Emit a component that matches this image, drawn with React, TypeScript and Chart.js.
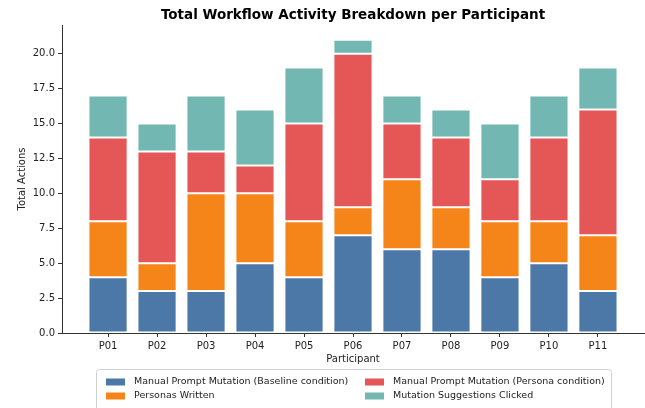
import React, { useEffect, useRef } from "react";
import { Chart, registerables } from "chart.js";

Chart.register(...registerables);

const participants = ["P01", "P02", "P03", "P04", "P05", "P06", "P07", "P08", "P09", "P10", "P11"];
const baseline = [4, 3, 3, 5, 4, 7, 6, 6, 4, 5, 3];
const personasWritten = [4, 2, 7, 5, 4, 2, 5, 3, 4, 3, 4];
const personaCondition = [6, 8, 3, 2, 7, 11, 4, 5, 3, 6, 9];
const suggestionsClicked = [3, 2, 4, 4, 4, 1, 2, 2, 4, 3, 3];
const yTicks = [0, 2.5, 5, 7.5, 10, 12.5, 15, 17.5, 20];

const seriesNames = [
  "Manual Prompt Mutation (Baseline condition)",
  "Personas Written",
  "Manual Prompt Mutation (Persona condition)",
  "Mutation Suggestions Clicked",
];
const colors = ["#4C78A8", "#F58518", "#E45756", "#72B7B2"];

const FONT = "'DejaVu Sans', sans-serif";

export default function App() {
  const ref = useRef<HTMLCanvasElement | null>(null);
  useEffect(() => {
    document.body.style.margin = "0";
    const canvas = ref.current!;
    const allSeries = [baseline, personasWritten, personaCondition, suggestionsClicked];
    const total = participants.map((_, i) => allSeries.reduce((s, a) => s + a[i], 0));
    const yMax = Math.max(...total) * 1.05;
    const n = participants.length;
    const span = n - 1 + 0.8;
    const xMin = -0.4 - 0.05 * span;
    const xMax = n - 1 + 0.4 + 0.05 * span;

    const decor = {
      id: "decor",
      afterDraw(chart: any) {
        const ctx = chart.ctx as CanvasRenderingContext2D;
        const area = chart.chartArea;
        const cx = (area.left + area.right) / 2;
        ctx.save();
        ctx.fillStyle = "#000";
        ctx.textAlign = "center";
        ctx.textBaseline = "middle";
        ctx.font = `bold 13.5px ${FONT}`;
        ctx.fillText("Total Workflow Activity Breakdown per Participant", cx, 15);
        ctx.font = `10px ${FONT}`;
        ctx.fillStyle = "#222";
        ctx.fillText("Participant", cx, 359);
        ctx.save();
        ctx.translate(22, (area.top + area.bottom) / 2);
        ctx.rotate(-Math.PI / 2);
        ctx.fillText("Total Actions", 0, 0);
        ctx.restore();

        // legend
        const bx = 96, by = 369, bw = 515, bh = 60;
        ctx.fillStyle = "rgba(255,255,255,0.8)";
        ctx.strokeStyle = "#d0d0d0";
        ctx.lineWidth = 1;
        ctx.beginPath();
        (ctx as any).roundRect(bx + 0.5, by + 0.5, bw, bh, 3);
        ctx.fill();
        ctx.stroke();
        const cols = [106, 365];
        const rows = [382, 396];
        ctx.font = `9.5px ${FONT}`;
        ctx.textAlign = "left";
        ctx.textBaseline = "middle";
        for (let k = 0; k < 4; k++) {
          const col = Math.floor(k / 2);
          const row = k % 2;
          ctx.fillStyle = colors[k];
          ctx.fillRect(cols[col], rows[row] - 3.5, 19, 7);
          ctx.fillStyle = "#222";
          ctx.fillText(seriesNames[k], cols[col] + 28, rows[row]);
        }
        ctx.restore();
      },
    };

    const chart = new Chart(canvas, {
      type: "bar",
      data: {
        datasets: allSeries.map((arr, k) => ({
          label: seriesNames[k],
          data: arr.map((v, i) => ({ x: i, y: v })),
          backgroundColor: colors[k],
          borderColor: "rgba(255,255,255,0.6)",
          borderWidth: 1,
          borderSkipped: false,
          barPercentage: 0.8,
          categoryPercentage: 1,
        })),
      },
      options: {
        animation: false,
        responsive: false,
        maintainAspectRatio: false,
        layout: { padding: { top: 25, right: 1, left: 0, bottom: 0 } },
        plugins: { legend: { display: false }, title: { display: false }, tooltip: { enabled: false } },
        scales: {
          x: {
            type: "linear",
            stacked: true,
            offset: false,
            min: xMin,
            max: xMax,
            afterBuildTicks: (s: any) => {
              s.ticks = participants.map((_, i) => ({ value: i }));
            },
            afterFit: (s: any) => {
              s.height = 408 - 333;
            },
            ticks: {
              callback: (v: any) => participants[Math.round(Number(v))] ?? "",
              font: { family: FONT, size: 10 },
              color: "#222",
              padding: 3,
              maxRotation: 0,
              autoSkip: false,
            },
            grid: { offset: false, drawOnChartArea: false, drawTicks: true, tickLength: 4, color: "#333" },
            border: { display: true, color: "#333", width: 1 },
          },
          y: {
            stacked: true,
            min: 0,
            max: yMax,
            afterBuildTicks: (s: any) => {
              s.ticks = yTicks.map((v) => ({ value: v }));
            },
            afterFit: (s: any) => {
              s.width = 62;
            },
            ticks: {
              callback: (v: any) => Number(v).toFixed(1),
              font: { family: FONT, size: 10 },
              color: "#222",
              padding: 3,
            },
            grid: { drawOnChartArea: false, drawTicks: true, tickLength: 4, color: "#333" },
            border: { display: true, color: "#333", width: 1 },
          },
        },
      },
      plugins: [decor],
    } as any);
    return () => chart.destroy();
  }, []);

  return (
    <div style={{ position: "absolute", left: 0, top: 0, width: 645, height: 408 }}>
      <canvas ref={ref} width={645} height={408} style={{ width: 645, height: 408, display: "block" }} />
    </div>
  );
}
